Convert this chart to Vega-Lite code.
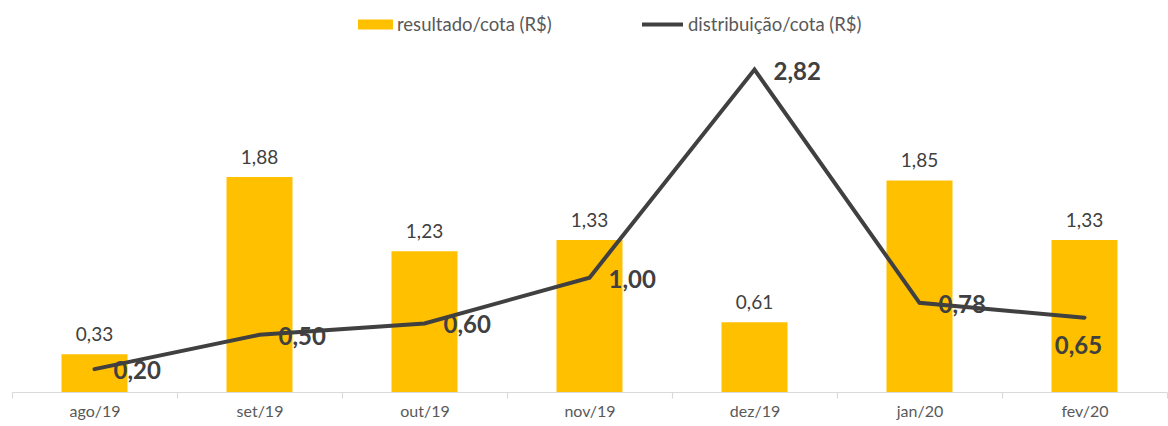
{
  "$schema": "https://vega.github.io/schema/vega-lite/v6.json",
  "autosize": {"type": "none"},
  "width": 1155,
  "height": 343,
  "padding": {"left": 12, "top": 49, "right": 1, "bottom": 34},
  "background": "white",
  "config": {
    "view": {"stroke": null},
    "font": "Lato",
    "locale": {"number": {"decimal": ",", "thousands": ".", "grouping": [3], "currency": ["R$", ""]}}
  },
  "data": {
    "values": [
      {"mes": "ago/19", "resultado": 0.33, "distribuicao": 0.20},
      {"mes": "set/19", "resultado": 1.88, "distribuicao": 0.50},
      {"mes": "out/19", "resultado": 1.23, "distribuicao": 0.60},
      {"mes": "nov/19", "resultado": 1.33, "distribuicao": 1.00},
      {"mes": "dez/19", "resultado": 0.61, "distribuicao": 2.82},
      {"mes": "jan/20", "resultado": 1.85, "distribuicao": 0.78},
      {"mes": "fev/20", "resultado": 1.33, "distribuicao": 0.65}
    ]
  },
  "encoding": {
    "x": {
      "field": "mes", "type": "nominal", "sort": null,
      "scale": {"paddingInner": 0, "paddingOuter": 0},
      "axis": {
        "title": null, "labelAngle": 0, "labelFont": "Lato", "labelFontSize": 16,
        "labelColor": "#595959", "labelPadding": 5,
        "domainColor": "#D9D9D9", "domainWidth": 1.2,
        "tickColor": "#D9D9D9", "tickWidth": 1.2, "tickSize": 6, "tickBand": "extent",
        "grid": false
      }
    }
  },
  "layer": [
    {
      "mark": {"type": "bar", "width": {"band": 0.4}},
      "encoding": {
        "y": {"field": "resultado", "type": "quantitative", "scale": {"domain": [0, 3]}, "axis": null},
        "fill": {
          "datum": "resultado/cota (R$)",
          "scale": {"domain": ["resultado/cota (R$)"], "range": ["#FFC000"]},
          "legend": {
            "orient": "none", "legendX": 346, "legendY": -42, "title": null,
            "symbolType": "M-1,-0.286H1V0.286H-1Z", "symbolSize": 1225,
            "symbolStrokeWidth": 0,
            "labelFont": "Lato", "labelFontSize": 18.5, "labelColor": "#595959", "labelOffset": 4,
            "labelLimit": 400, "padding": 0
          }
        }
      }
    },
    {
      "mark": {"type": "text", "baseline": "alphabetic", "dy": -13, "fontSize": 19, "color": "#404040", "font": "Lato"},
      "encoding": {
        "y": {"field": "resultado", "type": "quantitative"},
        "text": {"field": "resultado", "type": "quantitative", "format": ".2f"}
      }
    },
    {
      "mark": {"type": "line", "strokeWidth": 4, "strokeCap": "round", "strokeJoin": "miter"},
      "encoding": {
        "y": {"field": "distribuicao", "type": "quantitative"},
        "stroke": {
          "datum": "distribuição/cota (R$)",
          "scale": {"domain": ["distribuição/cota (R$)"], "range": ["#404040"]},
          "legend": {
            "orient": "none", "legendX": 628, "legendY": -47, "title": null,
            "symbolType": "stroke", "symbolSize": 1681, "symbolStrokeWidth": 4,
            "labelFont": "Lato", "labelFontSize": 18.5, "labelColor": "#595959", "labelOffset": 3,
            "labelLimit": 400, "padding": 0
          }
        }
      }
    },
    {
      "transform": [{"filter": "datum.mes != 'fev/20'"}],
      "mark": {"type": "text", "align": "left", "baseline": "middle", "dx": 19, "dy": 3, "fontSize": 24, "fontWeight": "bold", "color": "#404040", "font": "Lato"},
      "encoding": {
        "y": {"field": "distribuicao", "type": "quantitative"},
        "text": {"field": "distribuicao", "type": "quantitative", "format": ".2f"}
      }
    },
    {
      "transform": [{"filter": "datum.mes == 'fev/20'"}],
      "mark": {"type": "text", "align": "center", "baseline": "middle", "dx": -6, "dy": 29, "fontSize": 24, "fontWeight": "bold", "color": "#404040", "font": "Lato"},
      "encoding": {
        "y": {"field": "distribuicao", "type": "quantitative"},
        "text": {"field": "distribuicao", "type": "quantitative", "format": ".2f"}
      }
    }
  ]
}
